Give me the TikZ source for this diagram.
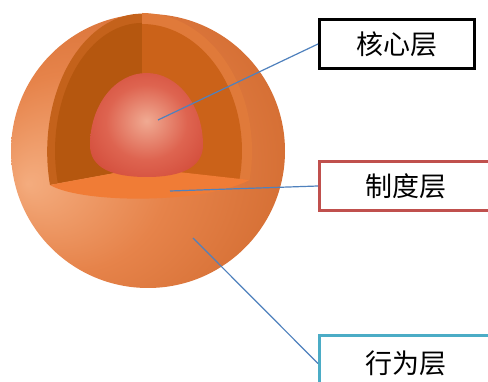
\documentclass[tikz,border=0pt]{standalone}
\usepackage{fontspec}
\newfontfamily\cjk{Noto Sans CJK SC}
\usetikzlibrary{positioning}
\definecolor{shellhi}{HTML}{F4AC7E}
\definecolor{shellmid}{HTML}{E6834A}
\definecolor{shelllo}{HTML}{CC6428}
\definecolor{wallleft}{HTML}{B5570F}
\definecolor{wallright}{HTML}{CB6219}
\definecolor{rimleft}{HTML}{C4621B}
\definecolor{rimright}{HTML}{E07A3A}
\definecolor{floorc}{HTML}{F07C36}
\definecolor{corehi}{HTML}{F0AA92}
\definecolor{coremid}{HTML}{DE6450}
\definecolor{corelo}{HTML}{CF4433}
\definecolor{leader}{HTML}{4F81BD}
\definecolor{boxred}{HTML}{C0504D}
\definecolor{boxcyan}{HTML}{4BACC6}
\pgfdeclareradialshading{shellshade}{\pgfpoint{-22bp}{-6bp}}{color(0bp)=(shellhi);color(18bp)=(shellmid);color(42bp)=(shelllo);color(50bp)=(shelllo)}
\pgfdeclareradialshading{coreshade}{\pgfpoint{0bp}{2bp}}{color(0bp)=(corehi);color(18bp)=(coremid);color(36bp)=(corelo);color(50bp)=(corelo)}

\begin{document}
\begin{tikzpicture}[x=1pt,y=1pt,
	layer/.style={draw, line width=3pt, fill=white, minimum width=155pt, minimum height=49pt, font=\cjk\fontsize{27}{30}\selectfont},
	leader/.style={draw=leader, line width=1.2pt}]
	\clip (0,0) rectangle (488,-382);
	\fill[white] (0,0) rectangle (488,-382);

	\shade[shading=shellshade] (148,-151) circle[radius=137];
	\fill[rimleft] (142,-13) -- (142,-168) -- (50,-185) arc[start angle=194, end angle=90, x radius=95, y radius=138] -- cycle;
	\fill[wallleft] (142,-24) -- (142,-168) -- (57.8,-183) arc[start angle=194.5, end angle=90, x radius=87, y radius=128] -- cycle;
	\fill[rimright] (142,-13) arc[start angle=90, end angle=-12.1, x radius=110, y radius=138] -- (142,-168) -- cycle;
	\fill[wallright] (142,-24) arc[start angle=90, end angle=-13, x radius=100, y radius=127] -- (142,-168) -- cycle;
	\fill[floorc] (50,-185) -- (142,-168) -- (249.6,-180) .. controls (200,-205) and (80,-203) .. (50,-185) -- cycle;
	\shade[shading=coreshade] (90,-145) arc[start angle=180, end angle=0, x radius=56.5, y radius=72] .. controls (203,-168) and (180,-177) .. (147,-177) .. controls (112,-177) and (90,-168) .. (90,-145) -- cycle;

	\node[layer, draw=black] (hexin) at (397,-44) {核心层};
	\node[layer, draw=boxred, minimum width=172pt, below=90pt of hexin.south west, anchor=north west] (zhidu) {制度层};
	\node[layer, draw=boxcyan, minimum width=172pt, minimum height=56pt, below=122pt of zhidu.south west, anchor=north west] (xingwei) {行为层};

	\coordinate (neixin) at (158,-120);
	\coordinate (diban) at (170,-191);
	\coordinate (waike) at (193,-238);
	\draw[leader] (neixin) -- (hexin.west);
	\draw[leader] (diban) -- (zhidu.west);
	\draw[leader] (waike) -- (xingwei.west);
\end{tikzpicture}
\end{document}
